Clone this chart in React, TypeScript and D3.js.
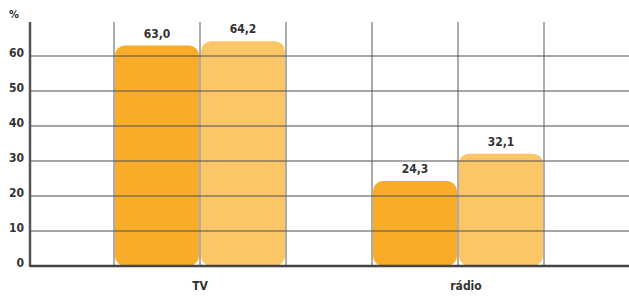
import { useEffect, useRef } from "react"
import * as d3 from "d3"

const categories = ["TV", "rádio"]
const seriesA = [63.0, 24.3]
const seriesB = [64.2, 32.1]
const yTicks = [0, 10, 20, 30, 40, 50, 60]

const W = 629
const H = 296
const FONT = "'DejaVu Sans Condensed', 'DejaVu Sans', sans-serif"

const App = () => {
  const ref = useRef<SVGSVGElement>(null)

  useEffect(() => {
    const svg = d3.select(ref.current)
    svg.selectAll("*").remove()

    const left = 30
    const base = 266
    const top = 22

    const x = d3
      .scaleBand()
      .domain(categories)
      .range([28, 630])
      .paddingInner(1 / 3)
      .paddingOuter(1 / 3)

    const sub = d3.scaleBand().domain(["a", "b"]).range([0, x.bandwidth()])

    const y = d3.scaleLinear().domain([0, 60]).range([base, base - 210])

    const data = categories.flatMap((c, i) => [
      { cat: c, key: "a", v: seriesA[i] },
      { cat: c, key: "b", v: seriesB[i] },
    ])
    const color = (k: string) => (k === "a" ? "#F8AC27" : "#FCC565")

    // bars
    svg
      .append("g")
      .selectAll("rect")
      .data(data)
      .enter()
      .append("rect")
      .attr("x", (d) => (x(d.cat) as number) + (sub(d.key) as number) + 1)
      .attr("y", (d) => y(d.v))
      .attr("width", sub.bandwidth() - 2)
      .attr("height", (d) => base - y(d.v))
      .attr("rx", 10)
      .attr("fill", (d) => color(d.key))

    // horizontal grid
    svg
      .append("g")
      .selectAll("line")
      .data(yTicks.filter((t) => t > 0))
      .enter()
      .append("line")
      .attr("x1", left)
      .attr("x2", W)
      .attr("y1", (d) => y(d))
      .attr("y2", (d) => y(d))
      .attr("stroke", "#555")
      .attr("stroke-opacity", 0.7)
      .attr("stroke-width", 1.5)

    // vertical grid
    const vx = categories.flatMap((c) => {
      const s = x(c) as number
      return [s, s + x.bandwidth() / 2, s + x.bandwidth()]
    })
    svg
      .append("g")
      .selectAll("line")
      .data(vx)
      .enter()
      .append("line")
      .attr("x1", (d) => d)
      .attr("x2", (d) => d)
      .attr("y1", top)
      .attr("y2", base)
      .attr("stroke", "#555")
      .attr("stroke-opacity", 0.65)
      .attr("stroke-width", 1.5)

    // axes
    svg
      .append("line")
      .attr("x1", left)
      .attr("x2", left)
      .attr("y1", top)
      .attr("y2", base + 1)
      .attr("stroke", "#555")
      .attr("stroke-width", 2.5)
    svg
      .append("line")
      .attr("x1", left)
      .attr("x2", W)
      .attr("y1", base)
      .attr("y2", base)
      .attr("stroke", "#444")
      .attr("stroke-width", 2.5)

    const txt = (sel: any, size: number) =>
      sel
        .attr("font-family", FONT)
        .attr("font-weight", "bold")
        .attr("font-size", size)
        .attr("fill", "#333")
        .style("font-stretch", "condensed")

    // y tick labels
    svg
      .append("g")
      .selectAll("text")
      .data(yTicks)
      .enter()
      .append("text")
      .text((d) => d)
      .attr("x", 24)
      .attr("y", (d) => y(d) + 1)
      .attr("text-anchor", "end")
      .call(txt, 12)

    svg.append("text").text("%").attr("x", 9).attr("y", 18).call(txt, 11)

    // value labels
    const fmt = (v: number) => v.toFixed(1).replace(".", ",")
    svg
      .append("g")
      .selectAll("text")
      .data(data)
      .enter()
      .append("text")
      .text((d) => fmt(d.v))
      .attr("x", (d) => (x(d.cat) as number) + (sub(d.key) as number) + sub.bandwidth() / 2)
      .attr("y", (d) => y(d.v) - 8)
      .attr("text-anchor", "middle")
      .call(txt, 12)

    // category labels
    svg
      .append("g")
      .selectAll("text")
      .data(categories)
      .enter()
      .append("text")
      .text((d) => d)
      .attr("x", (d) => (x(d) as number) + x.bandwidth() / 2 + (d === "TV" ? 0 : 8))
      .attr("y", 290)
      .attr("text-anchor", "middle")
      .call(txt, 12)
  }, [])

  return (
    <svg
      ref={ref}
      width={W}
      height={H}
      style={{ position: "absolute", left: 0, top: 0, background: "#fff" }}
    />
  )
}

export default App
